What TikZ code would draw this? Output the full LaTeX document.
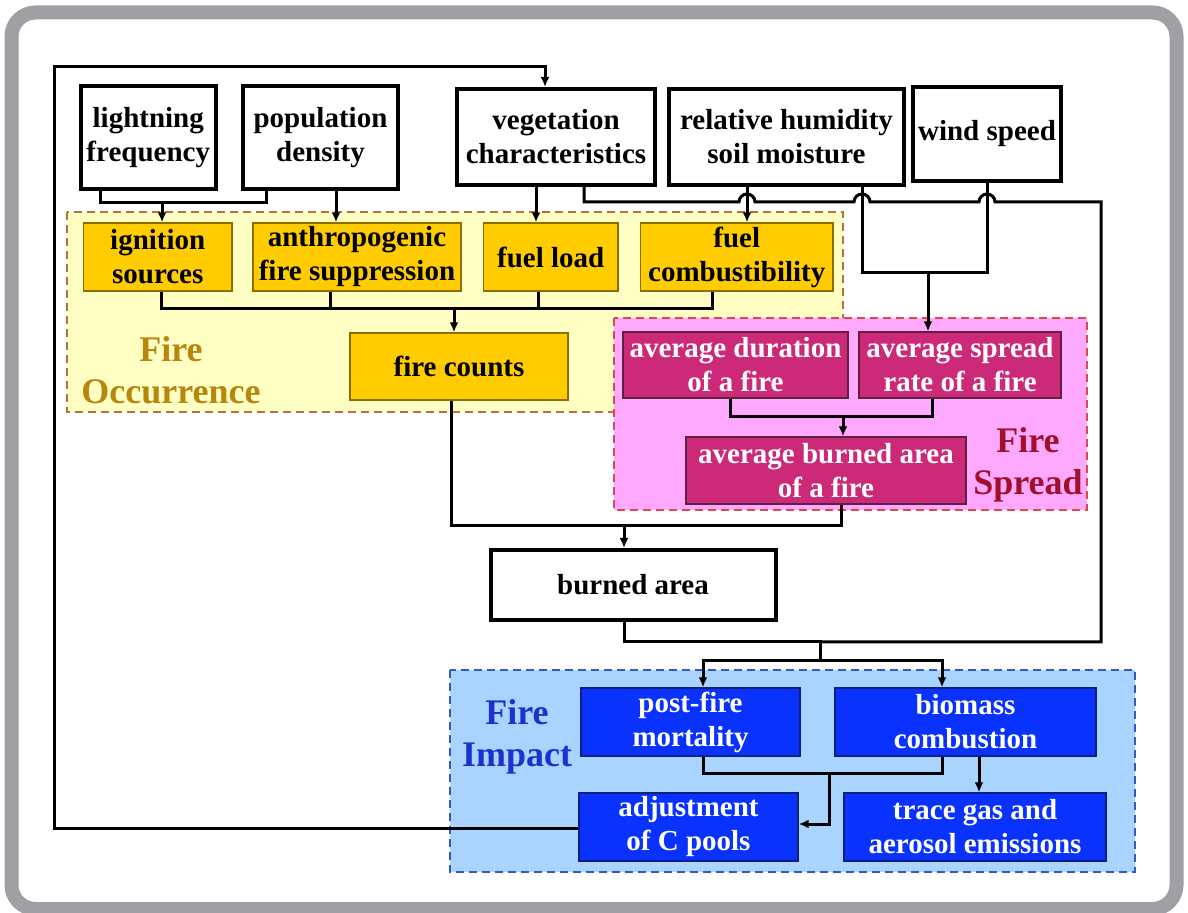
\documentclass[tikz,border=0pt]{standalone}
\usepackage{fontspec}
\setmainfont{Liberation Serif}
\usetikzlibrary{arrows.meta,calc}

\definecolor{framegray}{HTML}{A0A0A4}
\definecolor{occregfill}{HTML}{FFFFC4}
\definecolor{occregedge}{HTML}{B8703C}
\definecolor{occfill}{HTML}{FFCC00}
\definecolor{occedge}{HTML}{8C6D00}
\definecolor{occtext}{HTML}{B8860B}
\definecolor{sprregfill}{HTML}{FFA8FF}
\definecolor{sprregedge}{HTML}{E0474C}
\definecolor{sprfill}{HTML}{CC2A78}
\definecolor{spredge}{HTML}{602040}
\definecolor{sprtext}{HTML}{A0102A}
\definecolor{impregfill}{HTML}{A8D4FF}
\definecolor{impregedge}{HTML}{3558C8}
\definecolor{impfill}{HTML}{0A32FF}
\definecolor{impedge}{HTML}{102080}
\definecolor{imptext}{HTML}{2030D0}

\newcommand{\boxfont}{\fontsize{14.5}{17}\selectfont\bfseries}
\newcommand{\labfont}{\fontsize{18}{21}\selectfont\bfseries}

\tikzset{
 basebox/.style={align=center,inner sep=0pt,font=\boxfont},
 topbox/.style={basebox,draw=black,line width=2pt,fill=white},
 occbox/.style={basebox,draw=occedge,line width=0.7pt,fill=occfill},
 sprbox/.style={basebox,draw=spredge,line width=0.7pt,fill=sprfill,text=white},
 impbox/.style={basebox,draw=impedge,line width=0.7pt,fill=impfill,text=white},
 region/.style={dashed,dash pattern=on 4pt off 2.5pt,line width=1pt},
 grouplabel/.style={align=center,font=\labfont},
 conn/.style={line width=1.5pt},
 arr/.style={conn,-{Latex[length=5pt,width=4.5pt]}}
}

\begin{document}
\begin{tikzpicture}[x=0.5pt,y=-0.5pt]
\useasboundingbox (0,0) rectangle (1188,913);
\fill[white] (0,0) rectangle (1188,913);
\draw[line width=7pt,framegray,rounded corners=12pt] (11.5,12.5) rectangle (1176.5,909);

% group backgrounds
\draw[region,draw=occregedge,fill=occregfill] (67,212) rectangle (843,412);
\draw[region,draw=sprregedge,fill=sprregfill] (614,318) rectangle (1087,510);
\draw[region,draw=impregedge,fill=impregfill] (450,670) rectangle (1135,872);

\node[grouplabel,text=occtext] (occlab) at (171,370) {Fire\\Occurrence};
\node[grouplabel,text=sprtext] (sprlab) at (1028,465) {Fire\\Spread};
\node[grouplabel,text=imptext] (implab) at (517,737) {Fire\\Impact};

% drivers
\node[topbox,minimum width=67.75pt,minimum height=51.5pt] (light) at (148.25,137.5) {lightning\\frequency};
\node[topbox,minimum width=77.5pt,minimum height=51.5pt] (popu) at (320.5,137.5) {population\\density};
\node[topbox,minimum width=99pt,minimum height=48pt] (veg) at (556,137) {vegetation\\characteristics};
\node[topbox,minimum width=117.5pt,minimum height=48pt] (humid) at (786.5,137) {relative humidity\\soil moisture};
\node[topbox,minimum width=74pt,minimum height=47pt] (wind) at (987,134) {wind speed};

% fire occurrence
\node[occbox,minimum width=74.25pt,minimum height=34pt] (ign) at (157.75,257) {ignition\\sources};
\node[occbox,minimum width=104pt,minimum height=34pt] (anth) at (357,257) {anthropogenic\\fire suppression};
\node[occbox,minimum width=67.25pt,minimum height=34pt] (fload) at (550.75,257) {fuel load};
\node[occbox,minimum width=96.25pt,minimum height=34pt] (comb) at (736.75,257) {fuel\\combustibility};
\node[occbox,minimum width=109pt,minimum height=33.5pt] (counts) at (459,366.5) {fire counts};

% fire spread
\node[sprbox,minimum width=112.5pt,minimum height=33pt] (dur) at (735.5,365) {average duration\\of a fire};
\node[sprbox,minimum width=101pt,minimum height=33pt] (sprate) at (960,365) {average spread\\rate of a fire};
\node[sprbox,minimum width=140pt,minimum height=33.5pt] (avgarea) at (826,470.5) {average burned area\\of a fire};

\node[topbox,minimum width=142.5pt,minimum height=35pt] (burned) at (633,585) {burned area};

% fire impact
\node[impbox,minimum width=109.5pt,minimum height=34pt] (mort) at (690.5,722) {post-fire\\mortality};
\node[impbox,minimum width=130.5pt,minimum height=34pt] (biom) at (965.5,722) {biomass\\combustion};
\node[impbox,minimum width=109.5pt,minimum height=34pt] (adj) at (688.5,827) {adjustment\\of C pools};
\node[impbox,minimum width=131pt,minimum height=34pt] (trace) at (975,827) {trace gas and\\aerosol emissions};

% junctions
\coordinate (j1) at (162,203);
\coordinate (j2) at (928,273);
\coordinate (j3) at (454,309);
\coordinate (j4) at (624,526);
\coordinate (j5) at (843,417);
\coordinate (j6) at (820,642);
\coordinate (j7) at (820,661);
\coordinate (j9) at (829,773);

% vegetation line with hops
\draw[conn] (veg.south -| 584,0) |- (739,202)
  arc[start angle=180,end angle=0,radius=4pt] -- (854,202)
  arc[start angle=180,end angle=0,radius=4pt] -- (979,202)
  arc[start angle=180,end angle=0,radius=4pt] -- (1101,202) |- (j6);

\draw[conn] (light.south -| 100,0) |- (j1) -| (popu.south -| 266,0);
\draw[arr] (j1) -- (ign.north -| j1);
\draw[arr] (popu.south -| 336,0) -- (anth.north -| 336,0);
\draw[arr] (veg.south -| 536,0) -- (fload.north -| 536,0);
\draw[arr] (humid.south -| 747,0) -- (comb.north -| 747,0);
\draw[conn] (humid.south -| 862,0) |- (j2) -| (wind.south -| 987,0);
\draw[arr] (j2) -- (sprate.north -| j2);

\draw[conn] (ign.south -| 161,0) |- (j3) -| (comb.south -| 712,0);
\draw[conn] (anth.south -| 330,0) -- (j3 -| 330,0);
\draw[conn] (fload.south -| 538,0) -- (j3 -| 538,0);
\draw[arr] (j3) -- (counts.north -| j3);

\draw[conn] (dur.south -| 730,0) |- (j5) -| (sprate.south -| 932,0);
\draw[arr] (j5) -- (avgarea.north -| j5);

\draw[conn] (counts.south -| 451,0) |- (j4) -| (avgarea.south -| 841,0);
\draw[arr] (j4) -- (burned.north -| j4);

\draw[conn] (burned.south -| 624,0) |- (j6) -- (j7);
\draw[arr] (j7) -| (mort.north -| 703,0);
\draw[arr] (j7) -| (biom.north -| 942,0);

\draw[conn] (mort.south -| 703,0) |- (j9) -| (biom.south -| 942,0);
\draw[arr] (j9) |- (adj.east |- 0,824);
\draw[arr] (biom.south -| 979,0) -- (trace.north -| 979,0);

% feedback to vegetation
\draw[arr] (adj.west |- 0,828) -| (54,67) -| (veg.north -| 545,0);
\end{tikzpicture}
\end{document}
